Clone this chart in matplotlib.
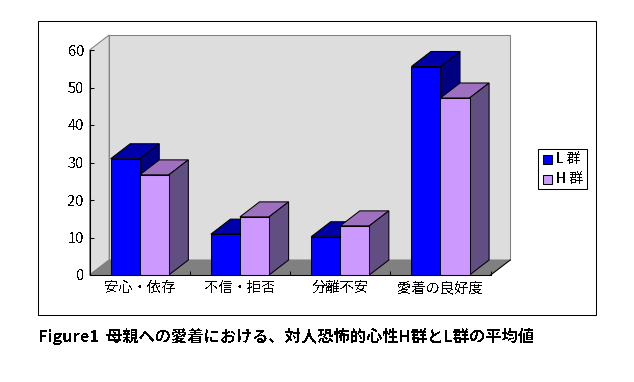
import matplotlib
matplotlib.use("Agg")
import matplotlib.pyplot as plt
from matplotlib.patches import Polygon, Rectangle

plt.rcParams['font.family'] = ['Noto Sans CJK JP', 'DejaVu Sans']
plt.rcParams['text.antialiased'] = False

categories = ['安心・依存', '不信・拒否', '分離不安', '愛着の良好度']
l_values = [31.0, 10.9, 10.2, 55.6]
h_values = [26.7, 15.5, 13.1, 47.2]
yticks = [0, 10, 20, 30, 40, 50, 60]
caption = 'Figure1  母親への愛着における、対人恐怖的心性H群とL群の平均値'

W, H = 634, 382
bar_w = 0.29
dx = 0.195  # depth in x, category units
dy = 4.0    # depth in y, value units
LW = 0.75   # about one pixel


def poly(ax, pts, fc, ec='black', lw=LW):
    ax.add_patch(Polygon(pts, closed=True, fc=fc, ec=ec, lw=lw, clip_on=False, joinstyle='miter'))


def bar3d(ax, x, val, front, top, side):
    poly(ax, [(x, val), (x + dx, val + dy), (x + bar_w + dx, val + dy), (x + bar_w, val)], top)
    poly(ax, [(x + bar_w, 0), (x + bar_w + dx, dy), (x + bar_w + dx, val + dy), (x + bar_w, val)], side)
    ax.add_patch(Rectangle((x, 0), bar_w, val, fc=front, ec='black', lw=LW, clip_on=False))


fig = plt.figure(figsize=(W / 100, H / 100), dpi=100)
fig.patch.set_facecolor('white')

# outer frame
fig.add_artist(Rectangle((37.5 / W, 1 - 315 / H), 558 / W, 294.5 / H, transform=fig.transFigure,
                         fc='none', ec='black', lw=LW))

ax = fig.add_axes([89.6 / W, 1 - 275 / H, 401 / W, 225 / H])
ax.set_xlim(0, 4)
ax.set_ylim(0, 60)
ax.patch.set_visible(False)
for s in ['top', 'right']:
    ax.spines[s].set_visible(False)
for s in ['left', 'bottom']:
    ax.spines[s].set_linewidth(LW)
    ax.spines[s].set_zorder(5)

# walls and floor
poly(ax, [(dx, dy), (4 + dx, dy), (4 + dx, 60 + dy), (dx, 60 + dy)], '#DDDDDD', ec='#808080')
poly(ax, [(0, 0), (dx, dy), (dx, 60 + dy), (0, 60)], '#DDDDDD', ec='#808080')
poly(ax, [(0, 0), (4, 0), (4 + dx, dy), (dx, dy)], '#808080', ec='#808080')
ax.plot([4, 4 + dx], [0, dy], color='black', lw=LW, clip_on=False)

for i in range(len(categories)):
    c = i + 0.5
    bar3d(ax, c - bar_w, l_values[i], '#0000FF', '#0000AA', '#000080')
    bar3d(ax, c, h_values[i], '#CC99FF', '#9F70BF', '#604F80')

ax.set_yticks(yticks)
ax.set_xticks(range(5))
ax.set_xticklabels([])
ax.tick_params(axis='both', direction='in', length=3, width=LW, color='black')
ax.tick_params(axis='y', labelsize=10.5, pad=4)
for i, name in enumerate(categories):
    ax.annotate(name, (i + 0.5, 0), xytext=(0, -13), textcoords='offset pixels',
                ha='center', va='center', fontsize=10.3)

# legend
fig.add_artist(Rectangle((537.5 / W, 1 - 188.5 / H), 49 / W, 40 / H, transform=fig.transFigure,
                         fc='white', ec='black', lw=LW))
for y, col, name in [(159, '#0000FF', 'L 群'), (179, '#CC99FF', 'H 群')]:
    fig.add_artist(Rectangle((542.5 / W, 1 - (y + 4.5) / H), 9 / W, 9 / H, transform=fig.transFigure,
                             fc=col, ec='black', lw=LW))
    fig.text(556 / W, 1 - y / H, name, ha='left', va='center', fontsize=10)

fig.text(38 / W, 1 - 336 / H, caption, ha='left', va='center', fontsize=11.7, fontweight='bold')

fig.savefig('out.png', dpi=100)
